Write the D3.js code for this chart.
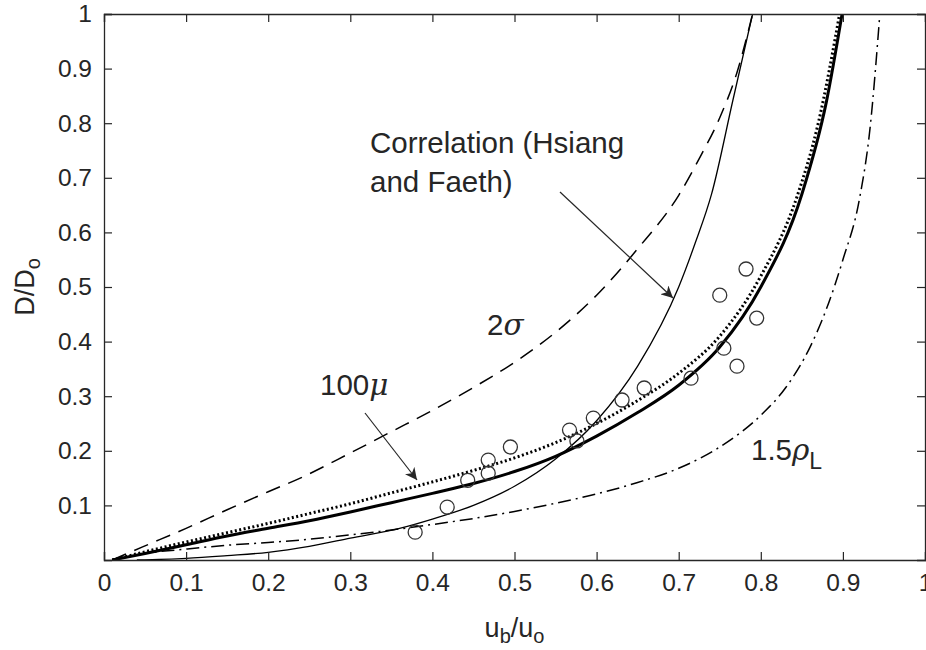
<!DOCTYPE html>
<html>
<head>
<meta charset="utf-8">
<script src="https://cdn.jsdelivr.net/npm/d3@7"></script>
<style>
  body { margin: 0; background: #fff; }
  svg text { font-family: "Liberation Sans", Arial, sans-serif; fill: #262626; }
</style>
</head>
<body>
<svg width="926" height="650"></svg>
<script>
// model curves as [u_b/u_o, D/D_o]
var baseCurve = [[0.01,0],[0.05,0.012],[0.1,0.028],[0.15,0.044],[0.2,0.058],[0.25,0.072],[0.3,0.088],
  [0.35,0.105],[0.4,0.122],[0.45,0.14],[0.5,0.162],[0.55,0.19],[0.6,0.227],[0.65,0.27],[0.7,0.32],
  [0.75,0.39],[0.8,0.5],[0.85,0.67],[0.88,0.84],[0.899,1.0]];
var mu100 = [[0.01,0],[0.05,0.015],[0.1,0.033],[0.15,0.05],[0.2,0.067],[0.25,0.085],[0.3,0.103],
  [0.35,0.123],[0.4,0.143],[0.45,0.164],[0.5,0.187],[0.55,0.215],[0.6,0.25],[0.65,0.292],[0.7,0.342],
  [0.75,0.41],[0.8,0.52],[0.844,0.665],[0.87,0.8],[0.896,1.0]];
var sigma2 = [[0.01,0],[0.047,0.024],[0.1,0.058],[0.15,0.092],[0.2,0.125],[0.239,0.15],[0.3,0.196],
  [0.35,0.235],[0.4,0.274],[0.45,0.316],[0.5,0.362],[0.55,0.417],[0.6,0.485],[0.65,0.57],[0.7,0.668],
  [0.726,0.738],[0.75,0.81],[0.771,0.893],[0.79,1.0]];
var rhoL15 = [[0.01,0],[0.05,0.012],[0.1,0.02],[0.15,0.027],[0.2,0.032],[0.25,0.038],[0.3,0.046],
  [0.35,0.055],[0.4,0.065],[0.45,0.076],[0.5,0.089],[0.55,0.104],[0.6,0.121],[0.65,0.142],
  [0.7,0.168],[0.75,0.207],[0.8,0.265],[0.83,0.315],[0.86,0.39],[0.88,0.46],
  [0.9,0.55],[0.92,0.66],[0.933,0.79],[0.945,1.0]];
var correlation = [[0.04,0],[0.1,0.003],[0.15,0.008],[0.2,0.014],[0.25,0.025],[0.3,0.04],[0.36,0.058],
  [0.4,0.075],[0.45,0.1],[0.5,0.135],[0.55,0.185],[0.6,0.255],[0.65,0.355],[0.7,0.5],[0.72,0.58],
  [0.74,0.67],[0.766,0.842],[0.79,1.0]];

// experimental points
var expU = [0.379,0.418,0.443,0.468,0.468,0.495,0.567,0.576,0.596,0.631,0.658,0.715,0.750,0.755,0.771,0.782,0.795];
var expD = [0.051,0.097,0.146,0.159,0.183,0.207,0.238,0.218,0.26,0.293,0.315,0.333,0.485,0.388,0.355,0.533,0.443];

var xTicks = [0,0.1,0.2,0.3,0.4,0.5,0.6,0.7,0.8,0.9,1];
var yTicks = [0.1,0.2,0.3,0.4,0.5,0.6,0.7,0.8,0.9,1];

var svg = d3.select('svg'),
  pL = 104, pR = 925, pT = 14, pB = 560;

var x = d3.scaleLinear().domain([0, 1]).range([pL, pR]);
var y = d3.scaleLinear().domain([0, 1]).range([pB, pT]);

var defs = svg.append('defs');
defs.append('clipPath').attr('id', 'plot')
  .append('rect').attr('x', pL).attr('y', pT)
  .attr('width', pR - pL).attr('height', pB - pT);

var line = d3.line()
  .x(function(d) { return x(d[0]); })
  .y(function(d) { return y(d[1]); })
  .curve(d3.curveMonotoneX);

var g = svg.append('g').attr('clip-path', 'url(#plot)');

// curves
var curves = [
  { data: sigma2, width: 1.5, dash: '15,9' },
  { data: rhoL15, width: 1.5, dash: '13,5,2,5' },
  { data: correlation, width: 1.3, dash: null },
  { data: baseCurve, width: 3, dash: null },
  { data: mu100, width: 3, dash: '2,2.5' }
];
curves.forEach(function(c) {
  g.append('path')
    .datum(c.data)
    .attr('d', line)
    .attr('fill', 'none')
    .attr('stroke', '#000')
    .attr('stroke-width', c.width)
    .attr('stroke-dasharray', c.dash);
});

// experimental circles
g.selectAll('circle')
  .data(d3.zip(expU, expD))
  .enter().append('circle')
  .attr('cx', function(d) { return x(d[0]); })
  .attr('cy', function(d) { return y(d[1]); })
  .attr('r', 7)
  .attr('fill', 'none')
  .attr('stroke', '#333')
  .attr('stroke-width', 1.3);

// axes, ticks inward on all four sides
var axisG = svg.append('g');
axisG.append('g').attr('transform', 'translate(0,' + pB + ')')
  .call(d3.axisBottom(x).tickValues(xTicks).tickSize(-8).tickPadding(14).tickFormat(d3.format('~g')));
axisG.append('g').attr('transform', 'translate(0,' + pT + ')')
  .call(d3.axisTop(x).tickValues(xTicks).tickSize(-8).tickFormat(''));
axisG.append('g').attr('transform', 'translate(' + pL + ',0)')
  .call(d3.axisLeft(y).tickValues(yTicks).tickSize(-8).tickPadding(12).tickFormat(d3.format('~g')));
axisG.append('g').attr('transform', 'translate(' + pR + ',0)')
  .call(d3.axisRight(y).tickValues(yTicks).tickSize(-8).tickFormat(''));
axisG.selectAll('.domain').attr('stroke', '#262626').attr('stroke-width', 1.3);
axisG.selectAll('.tick line').attr('stroke', '#262626').attr('stroke-width', 1.2);
axisG.selectAll('.tick text').attr('font-size', 24.5).attr('fill', '#262626')
  .style('font-family', '"Liberation Sans", Arial, sans-serif');

// axis labels
svg.append('text')
  .attr('x', (pL + pR) / 2).attr('y', 637)
  .attr('text-anchor', 'middle').attr('font-size', 27)
  .html('u<tspan baseline-shift="-30%" font-size="20">b</tspan>/u<tspan baseline-shift="-30%" font-size="20">o</tspan>');
svg.append('text')
  .attr('transform', 'translate(34,' + ((pT + pB) / 2) + ') rotate(-90)')
  .attr('text-anchor', 'middle').attr('font-size', 27)
  .html('D/D<tspan baseline-shift="-30%" font-size="20">o</tspan>');

// annotations
var ann = svg.append('g').attr('font-size', 29.5);
ann.append('text').attr('x', 370).attr('y', 153).text('Correlation (Hsiang');
ann.append('text').attr('x', 370).attr('y', 192).text('and Faeth)');
ann.append('text').attr('x', 487).attr('y', 335)
  .html('2<tspan font-style="italic" font-family="DejaVu Serif, serif">σ</tspan>');
ann.append('text').attr('x', 320).attr('y', 395)
  .html('100<tspan font-style="italic" font-family="DejaVu Serif, serif">μ</tspan>');
ann.append('text').attr('x', 751).attr('y', 460)
  .html('1.5<tspan font-style="italic" font-family="DejaVu Serif, serif">ρ</tspan><tspan baseline-shift="-40%" font-size="23">L</tspan>');

// arrows
defs.append('marker')
  .attr('id', 'head').attr('viewBox', '0 0 10 10')
  .attr('refX', 10).attr('refY', 5)
  .attr('markerWidth', 12).attr('markerHeight', 12)
  .attr('markerUnits', 'userSpaceOnUse')
  .attr('orient', 'auto')
  .append('path').attr('d', 'M0,0 L10,5 L0,10 L3,5 Z').attr('fill', '#262626');

[[[560, 192], [673, 298]], [[365, 413], [417, 480]]].forEach(function(a) {
  svg.append('line')
    .attr('x1', a[0][0]).attr('y1', a[0][1])
    .attr('x2', a[1][0]).attr('y2', a[1][1])
    .attr('stroke', '#262626').attr('stroke-width', 1.2)
    .attr('marker-end', 'url(#head)');
});
</script>
</body>
</html>
